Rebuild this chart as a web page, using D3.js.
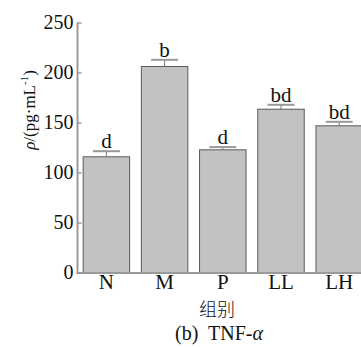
<!DOCTYPE html>
<html>
<head>
<meta charset="utf-8">
<script src="https://cdn.jsdelivr.net/npm/d3@7"></script>
<style>
  body { margin: 0; background: #fff; }
  svg text { font-family: "Liberation Serif", "Times New Roman", serif; fill: #111; }
</style>
</head>
<body>
<svg id="chart" width="361" height="347"></svg>
<script>
// chart data
var groups = ["N", "M", "P", "LL", "LH"];
var means = [115.7, 206, 122.7, 163.3, 146.7];
var errors = [5.6, 6.7, 2.7, 4.4, 4];
var letters = ["d", "b", "d", "bd", "bd"];
var yTicks = [0, 50, 100, 150, 200, 250];

var serif = "'Liberation Serif', 'Times New Roman', serif";
var svg = d3.select("#chart");

// scales
var x = d3.scaleBand()
          .domain(groups)
          .range([78, 367.6])
          .paddingInner(0.184)
          .paddingOuter(0.08);

var y = d3.scaleLinear()
          .domain([0, 250])
          .range([272.5, 22.5]);

var axisColor = "#9a9a9a";

// bars
svg.selectAll("rect.bar")
   .data(means)
   .enter()
   .append("rect")
   .attr("class", "bar")
   .attr("x", function(d, i){ return x(groups[i]) + 0.5; })
   .attr("y", function(d){ return y(d); })
   .attr("width", x.bandwidth() - 1)
   .attr("height", function(d){ return y(0) - y(d); })
   .attr("fill", "#c2c2c2")
   .attr("stroke", "#5a5a5a")
   .attr("stroke-width", 1);

// error bars (upper only) + significance letters
var capHalf = 13.5;
means.forEach(function(d, i){
  var cx = x(groups[i]) + x.bandwidth() / 2;
  svg.append("line")
     .attr("x1", cx).attr("x2", cx)
     .attr("y1", y(d)).attr("y2", y(d + errors[i]))
     .attr("stroke", "#777").attr("stroke-width", 1);
  svg.append("line")
     .attr("x1", cx - capHalf).attr("x2", cx + capHalf)
     .attr("y1", y(d + errors[i])).attr("y2", y(d + errors[i]))
     .attr("stroke", "#999").attr("stroke-width", 2);
  svg.append("text")
     .attr("x", cx)
     .attr("y", y(d + errors[i]) - 3)
     .attr("text-anchor", "middle")
     .style("font-family", serif)
     .style("font-size", "21px")
     .text(letters[i]);
});

// y axis
var yAxis = d3.axisRight(y)
              .tickValues(yTicks)
              .tickSize(4)
              .tickFormat(d3.format("d"));

var gy = svg.append("g")
            .attr("transform", "translate(77.5,0)")
            .call(yAxis);
gy.select(".domain").attr("stroke", axisColor).attr("stroke-width", 2)
  .attr("d", "M0," + y(250) + "V" + (y(0) + 1));
gy.selectAll(".tick line").attr("stroke", axisColor).attr("stroke-width", 1.5);
gy.selectAll(".tick text")
  .attr("x", -4)
  .attr("dy", "0.32em")
  .attr("text-anchor", "end")
  .style("font-family", serif)
  .style("font-size", "20px")
  .attr("fill", "#111");

// x axis
var xAxis = d3.axisBottom(x).tickSize(0).tickPadding(1);
var gx = svg.append("g")
            .attr("transform", "translate(0," + (y(0) + 0.5) + ")")
            .call(xAxis);
gx.select(".domain").attr("stroke", axisColor).attr("stroke-width", 2)
  .attr("d", "M76.5,0H361");
gx.selectAll(".tick text")
  .style("font-family", serif)
  .style("font-size", "21px")
  .attr("fill", "#111");

// y axis title
var yt = svg.append("text")
            .attr("transform", "translate(35,110) rotate(-90)")
            .attr("text-anchor", "middle")
            .style("font-family", serif)
            .style("font-size", "17px");
yt.append("tspan").attr("font-style", "italic").text("ρ");
yt.append("tspan").text("/(pg·mL");
yt.append("tspan").style("font-size", "11px").attr("dy", -7).text("-1");
yt.append("tspan").attr("dy", 7).text(")");

// x axis title and caption
svg.append("text")
   .attr("x", 217)
   .attr("y", 316)
   .attr("text-anchor", "middle")
   .style("font-family", "'Noto Sans CJK SC', sans-serif")
   .style("font-size", "18px")
   .style("font-weight", 300)
   .text("组别");

var cap = svg.append("text")
             .attr("x", 219)
             .attr("y", 340)
             .attr("text-anchor", "middle")
             .style("font-family", serif)
             .style("font-size", "20px")
             .style("white-space", "pre");
cap.append("tspan").text("(b)  TNF-");
cap.append("tspan").attr("font-style", "italic").text("α");
</script>
</body>
</html>
